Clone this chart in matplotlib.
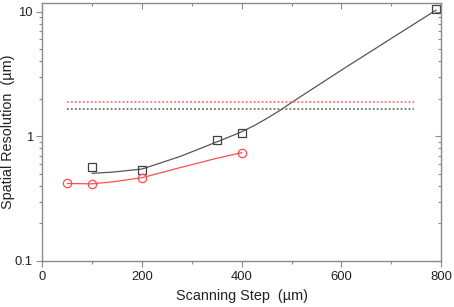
import matplotlib
matplotlib.use("Agg")
import matplotlib.pyplot as plt
from matplotlib.ticker import LogLocator, FixedLocator, NullFormatter, FixedFormatter

plt.rcParams['font.family'] = ['Liberation Sans', 'DejaVu Sans']

# Measured data
sq_x = [100, 200, 350, 400, 790]
sq_y = [0.567, 0.537, 0.94, 1.07, 10.5]
ci_x = [50, 100, 200, 400]
ci_y = [0.42, 0.414, 0.466, 0.74]

# Fit curves
black_fit_x = [100, 142, 200, 237, 275, 312, 349, 375, 400, 425, 450, 475, 500, 600, 700, 790]
black_fit_y = [0.505, 0.517, 0.547, 0.612, 0.687, 0.785, 0.90, 0.99, 1.09, 1.22, 1.39, 1.6, 1.87, 3.4, 6.1, 10.3]
red_fit_x = [50, 100, 142, 200, 237, 275, 312, 349, 400]
red_fit_y = [0.418, 0.416, 0.432, 0.466, 0.51, 0.56, 0.61, 0.666, 0.74]

# Horizontal reference levels
ref_x = [50, 745]
red_ref = 1.895
black_ref = 1.665

x_ticks = [0, 200, 400, 600, 800]
y_ticks = [0.1, 1, 10]
y_tick_labels = ['0.1', '1', '10']

fig = plt.figure(figsize=(4.54, 3.07), dpi=100)
ax = fig.add_axes([0.0936, 0.150, 0.8777, 0.839])

gray = '#555555'
red = '#ff4d4d'

ax.plot(black_fit_x, black_fit_y, color=gray, lw=0.9)
ax.plot(red_fit_x, red_fit_y, color=red, lw=0.9)
ax.plot(sq_x, sq_y, linestyle='none', marker='s', markersize=5.3,
        markerfacecolor='none', markeredgecolor='#404040', markeredgewidth=0.9)
ax.plot(ci_x, ci_y, linestyle='none', marker='o', markersize=6,
        markerfacecolor='none', markeredgecolor=red, markeredgewidth=0.9)

ax.plot(ref_x, [red_ref, red_ref], color='#ff7070', lw=1.3, linestyle=(0, (1, 1.2)))
ax.plot(ref_x, [black_ref, black_ref], color='#707070', lw=1.3, linestyle=(0, (1, 1.2)))

ax.set_yscale('log')
ax.set_xlim(0, 800)
ax.set_ylim(0.1, 11.68)

ax.xaxis.set_major_locator(FixedLocator(x_ticks))
ax.xaxis.set_minor_locator(FixedLocator([100, 300, 500, 700]))
ax.yaxis.set_major_locator(FixedLocator(y_ticks))
ax.yaxis.set_major_formatter(FixedFormatter(y_tick_labels))
ax.yaxis.set_minor_locator(LogLocator(base=10, subs=[2, 3, 4, 5, 6, 7, 8, 9]))
ax.yaxis.set_minor_formatter(NullFormatter())

for s in ax.spines.values():
    s.set_color('#8a8a8a')
    s.set_linewidth(1.0)

ax.tick_params(axis='both', which='both', colors='#8a8a8a', labelcolor='#222222',
               labelsize=9.4, width=0.8)
ax.tick_params(axis='both', which='major', length=4, direction='out', pad=3)
ax.tick_params(axis='both', which='minor', length=2.5, direction='out')

# mirrored inward ticks on top and right
axt = ax.secondary_xaxis('top')
axt.xaxis.set_major_locator(FixedLocator(x_ticks))
axt.xaxis.set_minor_locator(FixedLocator([100, 300, 500, 700]))
axt.tick_params(which='both', direction='in', colors='#8a8a8a', labeltop=False, width=0.8)
axt.tick_params(which='major', length=4)
axt.tick_params(which='minor', length=2.5)
axt.spines['top'].set_visible(False)

axr = ax.secondary_yaxis('right')
axr.yaxis.set_major_locator(FixedLocator(y_ticks))
axr.yaxis.set_minor_locator(LogLocator(base=10, subs=[2, 3, 4, 5, 6, 7, 8, 9]))
axr.yaxis.set_minor_formatter(NullFormatter())
axr.tick_params(which='both', direction='in', colors='#8a8a8a', labelright=False, width=0.8)
axr.tick_params(which='major', length=4)
axr.tick_params(which='minor', length=2.5)
axr.spines['right'].set_visible(False)

ax.set_xlabel('Scanning Step  (\u00b5m)', fontsize=10.4, color='#222222')
ax.xaxis.set_label_coords(0.5, -0.108)
ax.set_ylabel('Spatial Resolution  (\u00b5m)', fontsize=10.4, color='#222222')
ax.yaxis.set_label_coords(-0.068, 0.5)

fig.savefig('out.png', dpi=100)
